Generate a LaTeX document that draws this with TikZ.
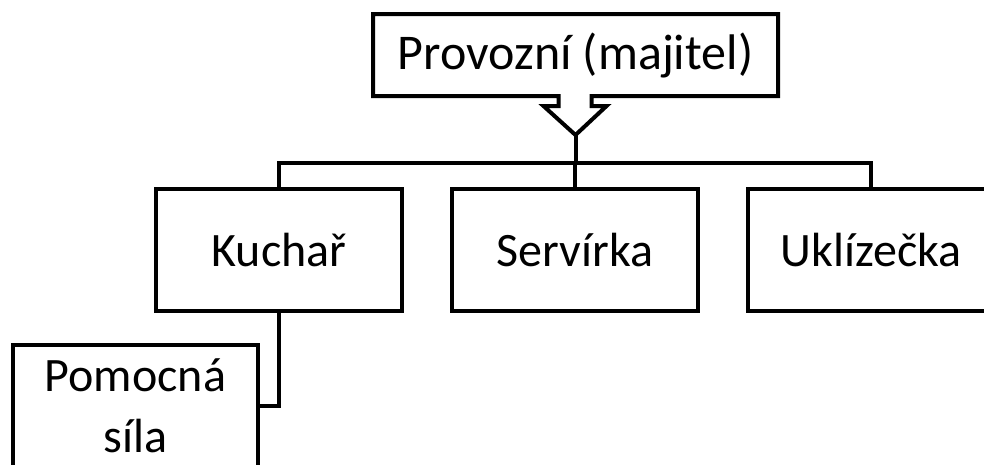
\documentclass[tikz,border=0pt]{standalone}
\usepackage{fontspec}
\setmainfont{Carlito}
\usetikzlibrary{calc}
\begin{document}
\begin{tikzpicture}[x=1pt,y=-1pt,
  line width=4pt,
  box/.style={rectangle,minimum width=246pt,minimum height=122pt,inner sep=0pt,outer sep=0pt,
    font=\fontsize{48}{61}\selectfont,align=center},
  framed/.style={box,draw},
  conn/.style={draw,line width=4pt}]
\clip (0,0) rectangle (984,464);
\useasboundingbox (0,0) rectangle (984,464);
% top box (outline drawn by hand because of the notch)
\node[box,minimum width=405pt,minimum height=82pt,font=\fontsize{50}{60}\selectfont] (top) at (575.5,55) {Provozní (majitel)};
\draw[line join=miter] ([xshift=-17pt]top.south) -- (top.south west) -- (top.north west) -- (top.north east)
  -- (top.south east) -- ([xshift=16pt]top.south) -- ++(0,10) -- ++(15,0) -- ++(-31,29) coordinate (tip)
  -- ++(-32,-29) -- ++(15,0) -- cycle;
\node[framed] (kuchar) at (279,250) {Kuchař};
\node[framed] (servirka) at (575,250) {Servírka};
\node[framed] (uklizecka) at (871,250) {Uklízečka};
\node[framed,minimum width=245pt] (pomocna) at (135.5,406) {Pomocná\\síla};
\coordinate (bus) at (575,163);
\draw[conn] (tip) -- (tip |- bus);
\draw[conn] (kuchar.north) |- (bus) -| (uklizecka.north);
\draw[conn] (servirka.north) -- (servirka.north |- bus);
\draw[conn] (kuchar.south) |- (pomocna.east);
\end{tikzpicture}
\end{document}
